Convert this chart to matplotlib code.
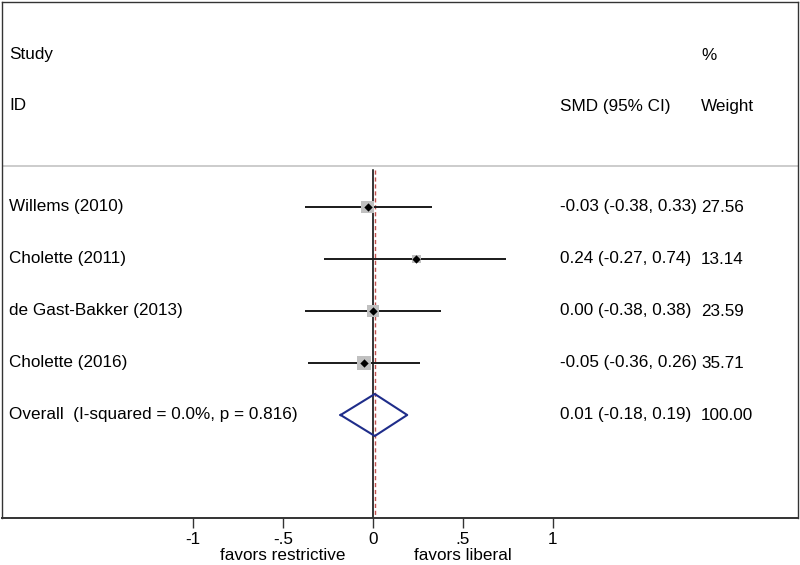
import matplotlib
matplotlib.use("Agg")
import matplotlib.pyplot as plt
import matplotlib.transforms as transforms
import numpy as np

plt.rcParams["font.family"] = ["Liberation Sans", "DejaVu Sans"]

# study data
studies = ["Willems (2010)", "Cholette (2011)", "de Gast-Bakker (2013)", "Cholette (2016)"]
smd = [-0.03, 0.24, 0.00, -0.05]
ci_low = [-0.38, -0.27, -0.38, -0.36]
ci_high = [0.33, 0.74, 0.38, 0.26]
weights = [27.56, 13.14, 23.59, 35.71]

overall_label = "Overall  (I-squared = 0.0%, p = 0.816)"
overall_smd = 0.01
overall_low = -0.18
overall_high = 0.19
overall_weight = 100.00

xticks = [-1, -0.5, 0, 0.5, 1]
xtick_labels = ["-1", "-.5", "0", ".5", "1"]

FS = 12.3

fig = plt.figure(figsize=(8, 5.65), dpi=100)
# axes box matches the outer frame of the reference
ax = fig.add_axes([2 / 800, 1 - 518 / 565, 796 / 800, 516 / 565])

# one x unit = 180 px, zero at px 373
ax.set_xlim((2 - 373) / 180, (798 - 373) / 180)
# one row = 52 px, first study row at px 207
ax.set_ylim((518 - 207) / 52, (2 - 207) / 52)

for s in ax.spines.values():
    s.set_color("#333333")
    s.set_linewidth(1.0)
ax.spines["bottom"].set_linewidth(1.4)

ax.set_yticks([])
ax.set_xticks(xticks)
ax.set_xticklabels(xtick_labels, fontsize=FS)
ax.tick_params(axis="x", length=7, width=1, color="#333333", pad=3)

rows = np.arange(len(studies))
overall_row = len(studies)
top_line = (170 - 207) / 52

# header separator
ax.axhline((166 - 207) / 52, color="#c8c8c8", lw=1.3)

# null line and overall effect line
ax.plot([0, 0], [top_line, ax.get_ylim()[0]], color="black", lw=1.1, zorder=2)
ax.plot([overall_smd, overall_smd], [top_line, ax.get_ylim()[0]], color="#c0504d",
        lw=1.0, ls=(0, (3, 2)), zorder=2)

# confidence intervals
ax.hlines(rows, ci_low, ci_high, color="#1a1a1a", lw=1.4, zorder=3)

# weight boxes
sizes = np.array(weights) * 3.0
ax.scatter(smd, rows, s=sizes, marker="s", color="#c0c0c0", zorder=3, linewidths=0)
ax.scatter(smd, rows, s=18, marker="D", color="black", zorder=4, linewidths=0)

# overall diamond
dh = 21 / 52
ax.plot([overall_low, overall_smd, overall_high, overall_smd, overall_low],
        [overall_row, overall_row - dh, overall_row, overall_row + dh, overall_row],
        color="#1f2d8a", lw=1.5, zorder=5)

trans = transforms.blended_transform_factory(fig.transFigure, ax.transData)
col_label = 9 / 800
col_ci = 560 / 800
col_w = 701 / 800

ax.text(col_label, (55 - 207) / 52, "Study", transform=trans, fontsize=FS, va="center")
ax.text(col_label, (106 - 207) / 52, "ID", transform=trans, fontsize=FS, va="center")
ax.text(col_ci, (106 - 207) / 52, "SMD (95% CI)", transform=trans, fontsize=FS, va="center")
ax.text(col_w, (55 - 207) / 52, "%", transform=trans, fontsize=FS, va="center")
ax.text(col_w, (106 - 207) / 52, "Weight", transform=trans, fontsize=FS, va="center")

for r, name, m, lo, hi, w in zip(rows, studies, smd, ci_low, ci_high, weights):
    ax.text(col_label, r, name, transform=trans, fontsize=FS, va="center")
    ax.text(col_ci, r, "%.2f (%.2f, %.2f)" % (m, lo, hi), transform=trans, fontsize=FS, va="center")
    ax.text(col_w, r, "%.2f" % w, transform=trans, fontsize=FS, va="center")

ax.text(col_label, overall_row, overall_label, transform=trans, fontsize=FS, va="center")
ax.text(col_ci, overall_row, "%.2f (%.2f, %.2f)" % (overall_smd, overall_low, overall_high),
        transform=trans, fontsize=FS, va="center")
ax.text(col_w, overall_row, "%.2f" % overall_weight, transform=trans, fontsize=FS, va="center")

# direction labels under the axis
ax.text(-0.5, -0.072, "favors restrictive", transform=ax.get_xaxis_transform(),
        fontsize=FS, ha="center", va="center")
ax.text(0.5, -0.072, "favors liberal", transform=ax.get_xaxis_transform(),
        fontsize=FS, ha="center", va="center")

fig.savefig("out.png", dpi=100)
